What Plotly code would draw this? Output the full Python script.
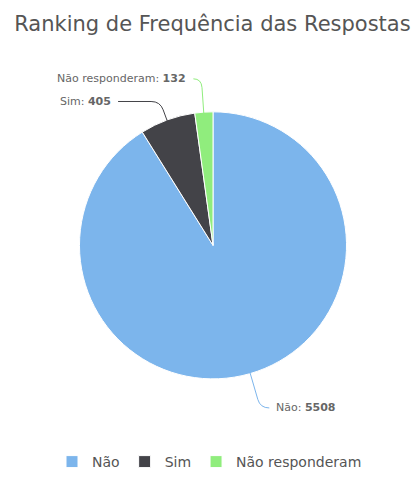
import math
import plotly.graph_objects as go

labels = ["Não", "Sim", "Não responderam"]
values = [5508, 405, 132]
colors = ["#7cb5ec", "#434348", "#90ed7d"]

W, H = 419, 478
cx, cy, r = 213, 249, 133
pad = 2.5  # plotly draws the pie slightly inside its domain

# label layout: (label y in px, horizontal length after elbow, side)
label_style = [(414, 9, 1), (103, 42, -1), (80, 8, -1)]

fig = go.Figure(go.Pie(
    labels=labels, values=values, sort=False, direction="clockwise", rotation=0,
    marker=dict(colors=colors, line=dict(color="white", width=1)),
    textinfo="none", hoverinfo="label+value",
    domain=dict(x=[(cx - r - pad) / W, (cx + r + pad) / W],
                y=[1 - (cy + r + pad) / H, 1 - (cy - r - pad) / H]),
))

def P(x, y):
    return f"{x / W:.5f},{1 - y / H:.5f}"

total = sum(values)
cum = 0
annotations = []
shapes = []
for lab, val, col, (ly, hlen, side) in zip(labels, values, colors, label_style):
    mid = (cum + val / 2) / total
    cum += val
    ang = 2 * math.pi * mid
    dx, dy = math.sin(ang), -math.cos(ang)
    ex, ey = cx + r * dx, cy + r * dy
    t = (ly - ey) / dy
    kx, ky = ex + t * dx, ly
    bend = 9
    bx, by = ex + (t - bend) * dx, ey + (t - bend) * dy
    ax_, ay_ = kx + side * min(bend, hlen), ly
    endx = kx + side * hlen
    path = f"M {P(ex, ey)} L {P(bx, by)} Q {P(kx, ky)} {P(ax_, ay_)} L {P(endx, ly)}"
    shapes.append(dict(type="path", path=path, xref="paper", yref="paper",
                       line=dict(color=col, width=1)))
    annotations.append(dict(
        x=(endx + side * 5) / W, y=1 - ly / H, xref="paper", yref="paper",
        text=f"{lab}: <b>{val}</b>", showarrow=False,
        xanchor="left" if side > 0 else "right", yanchor="middle",
        font=dict(family="DejaVu Sans", size=11, color="#666666"),
    ))

fig.update_layout(
    width=W, height=H,
    margin=dict(l=0, r=0, t=0, b=0),
    paper_bgcolor="white",
    title=dict(text="Ranking de Frequência das Respostas", x=0.507, xanchor="center",
               y=1 - 24 / H, yanchor="middle",
               font=dict(family="DejaVu Sans", size=21, color="#555555")),
    showlegend=True,
    legend=dict(orientation="h", x=0.5, xanchor="center", y=1 - 469 / H, yanchor="middle",
                font=dict(family="DejaVu Sans", size=14, color="#555555"), traceorder="normal"),
    annotations=annotations,
    shapes=shapes,
)

fig.write_html("out.html", config={"displayModeBar": False},
               post_script="document.body.style.margin='0';")
